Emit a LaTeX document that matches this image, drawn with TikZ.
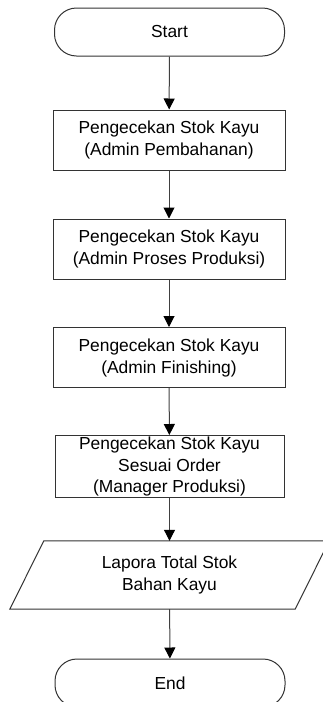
\documentclass[tikz,border=0pt]{standalone}
\usepackage{fontspec}
\setmainfont{Liberation Sans}
\usetikzlibrary{arrows.meta}
\tikzset{
  line/.style={draw=black!75,line width=1pt,-{Triangle[width=11pt,length=11pt,color=black]}},
  terminal/.style={draw=black!80,line width=1pt,rounded corners=22pt,minimum width=230pt,minimum height=48pt,inner sep=0pt},
  process/.style={draw=black!80,line width=1pt,minimum width=232pt,minimum height=60pt,inner sep=0pt,align=center},
  iobox/.style={minimum width=251pt,minimum height=68pt,inner sep=0pt,align=center}
}
\begin{document}
\begin{tikzpicture}[x=1pt,y=-1pt,font=\fontsize{17.4}{22}\selectfont]
  \useasboundingbox (0,0) rectangle (323,702);
  \clip (0,0) rectangle (323,702);
  % terminals and steps
  \node[terminal] (start) at (169.5,32) {Start};
  \node[process] (admpbh) at (169,140) {Pengecekan Stok Kayu\\(Admin Pembahanan)};
  \node[process] (admpro) at (169,249) {Pengecekan Stok Kayu\\(Admin Proses Produksi)};
  \node[process] (admfin) at (169,357.5) {Pengecekan Stok Kayu\\(Admin Finishing)};
  \node[process,minimum width=229pt,minimum height=62pt,font=\fontsize{17.4}{21.5}\selectfont] (mgrpro) at (169.5,466.5) {Pengecekan Stok Kayu\\Sesuai Order\\(Manager Produksi)};
  \node[iobox] (lapor) at (169.5,575) {Lapora Total Stok\\Bahan Kayu};
  \draw[black!80,line width=1pt] (lapor.north west) -- ([xshift=34pt]lapor.north east)
    -- (lapor.south east) -- ([xshift=-34pt]lapor.south west) -- cycle;
  \node[terminal] (end) at (170,683) {End};
  % arrows
  \draw[line] (start) -- (admpbh);
  \draw[line] (admpbh) -- (admpro);
  \draw[line] (admpro) -- (admfin);
  \draw[line] (admfin) -- (mgrpro);
  \draw[line] (mgrpro) -- (lapor);
  \draw[line] (lapor) -- (end);
\end{tikzpicture}
\end{document}
